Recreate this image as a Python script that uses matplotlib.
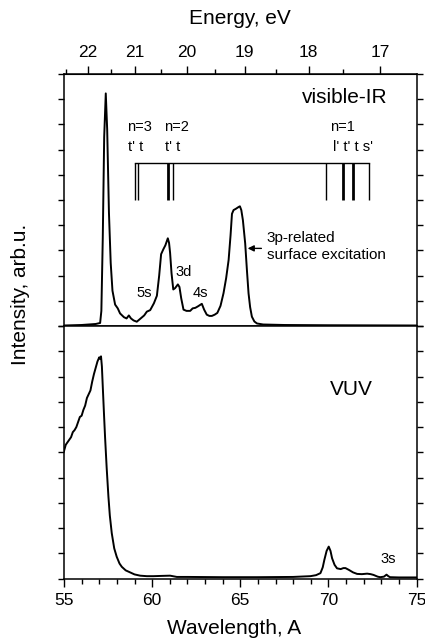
import numpy as np
import matplotlib
matplotlib.use("Agg")
import matplotlib.pyplot as plt
from matplotlib.ticker import MultipleLocator, NullFormatter

plt.rcParams["font.family"] = ["Liberation Sans", "DejaVu Sans"]

# visible-IR spectrum (wavelength, intensity)
vis_wl = [55.0, 56.0, 56.8, 57.05, 57.12, 57.2, 57.28, 57.37, 57.45, 57.55,
          57.65, 57.75, 57.9, 58.05, 58.18, 58.4, 58.55, 58.68, 58.8, 58.95,
          59.13, 59.35, 59.55, 59.7, 59.89, 60.1, 60.27, 60.4, 60.51, 60.64,
          60.75, 60.89, 60.96, 61.02, 61.1, 61.2, 61.3, 61.46, 61.55, 61.65,
          61.78, 61.95, 62.16, 62.3, 62.45, 62.6, 62.82, 62.95, 63.1, 63.25,
          63.39, 63.55, 63.7, 63.88, 64.05, 64.2, 64.34, 64.45, 64.53, 64.62,
          64.75, 64.9, 64.98, 65.06, 65.15, 65.28, 65.38, 65.47, 65.56, 65.66,
          65.8, 65.95, 66.3, 67.5, 70.0, 75.0]
vis_int = [0.02, 0.04, 0.08, 0.12, 0.6, 3.5, 7.5, 9.23, 7.8, 4.5,
           2.5, 1.4, 0.85, 0.7, 0.5, 0.35, 0.3, 0.42, 0.3, 0.22,
           0.17, 0.3, 0.42, 0.57, 0.63, 0.9, 1.2, 2.0, 2.85, 3.05,
           3.2, 3.48, 3.3, 2.9, 2.1, 1.45, 1.5, 1.65, 1.55, 1.1,
           0.65, 0.6, 0.6, 0.7, 0.72, 0.78, 0.88, 0.65, 0.45, 0.4,
           0.4, 0.45, 0.52, 0.8, 1.3, 1.9, 2.62, 3.6, 4.45, 4.6,
           4.65, 4.72, 4.75, 4.6, 4.2, 3.28, 2.2, 1.3, 0.75, 0.37,
           0.18, 0.1, 0.06, 0.04, 0.03, 0.02]

# VUV spectrum
vuv_wl = [55.0, 55.1, 55.2, 55.3, 55.4, 55.5, 55.6, 55.7, 55.8, 55.9,
          56.0, 56.1, 56.2, 56.3, 56.4, 56.5, 56.6, 56.7, 56.8, 56.9,
          57.0, 57.05, 57.1, 57.15, 57.2, 57.27, 57.33, 57.42, 57.52, 57.6,
          57.71, 57.85, 57.99, 58.15, 58.28, 58.5, 58.75, 59.0, 59.32, 59.7,
          60.07, 60.5, 61.02, 61.4, 62.0, 64.0, 66.0, 68.0, 68.98, 69.3,
          69.55, 69.68, 69.77, 69.9, 70.02, 70.12, 70.21, 70.35, 70.49, 70.7,
          70.85, 70.97, 71.16, 71.4, 71.63, 71.9, 72.2, 72.4, 72.56, 72.8,
          72.94, 73.15, 73.3, 73.4, 73.5, 74.0, 75.0]
vuv_int = [5.05, 5.3, 5.4, 5.5, 5.6, 5.8, 5.88, 6.0, 6.2, 6.4,
           6.45, 6.68, 6.85, 7.15, 7.3, 7.45, 7.8, 8.1, 8.35, 8.6,
           8.76, 8.7, 8.8, 8.4, 7.6, 6.5, 5.6, 4.4, 3.25, 2.5,
           1.8, 1.2, 0.87, 0.6, 0.47, 0.33, 0.25, 0.17, 0.12, 0.1,
           0.1, 0.11, 0.12, 0.07, 0.07, 0.06, 0.06, 0.07, 0.1, 0.14,
           0.22, 0.45, 0.74, 1.1, 1.27, 1.1, 0.81, 0.55, 0.41, 0.38,
           0.42, 0.42, 0.35, 0.25, 0.19, 0.18, 0.2, 0.18, 0.15, 0.08,
           0.06, 0.08, 0.16, 0.1, 0.06, 0.05, 0.05]

# exciton level markers
level_wl = [59.0, 59.22, 60.9, 61.2, 69.87, 70.85, 71.4, 72.29]
level_thick = [False, False, True, False, False, True, True, False]
bracket_top = 6.45
bracket_bottom = 5.0

hc = 1239.84
energy_ticks = [17, 18, 19, 20, 21, 22]

fig = plt.figure(figsize=(4.25, 6.44), dpi=100)
l, r = 64 / 425, 416.5 / 425
ax1 = fig.add_axes([l, 1 - 326 / 644, r - l, (326 - 74) / 644])
ax2 = fig.add_axes([l, 1 - 578.7 / 644, r - l, (578.7 - 326) / 644])

for ax in (ax1, ax2):
    ax.set_xlim(55, 75)
    ax.set_ylim(0, 10)
    ax.yaxis.set_major_locator(MultipleLocator(1))
    ax.yaxis.set_major_formatter(NullFormatter())
    ax.tick_params(axis="y", which="both", left=True, right=True,
                   direction="out", length=4, width=1)
    for s in ax.spines.values():
        s.set_linewidth(1.1)

ax1.plot(vis_wl, vis_int, color="black", lw=1.4)
ax2.plot(vuv_wl, vuv_int, color="black", lw=1.4)

ax1.tick_params(axis="x", which="both", bottom=False, labelbottom=False)
ax2.xaxis.set_major_locator(MultipleLocator(5))
ax2.xaxis.set_minor_locator(MultipleLocator(1))
ax2.tick_params(axis="x", which="major", direction="out", length=6, width=1,
                labelsize=12.5, pad=4)
ax2.tick_params(axis="x", which="minor", direction="out", length=3.5, width=1)


def wl2e(x):
    with np.errstate(divide="ignore"):
        return hc / np.asarray(x, dtype=float)


sec = ax1.secondary_xaxis("top", functions=(wl2e, wl2e))
sec.set_xticks(energy_ticks)
sec.xaxis.set_minor_locator(MultipleLocator(0.5))
sec.tick_params(axis="x", which="major", direction="out", length=6, width=1,
                labelsize=12.5, pad=4)
sec.tick_params(axis="x", which="minor", direction="out", length=3.5, width=1)

# level markers
ax1.plot([level_wl[0], level_wl[-1]], [bracket_top, bracket_top], color="black", lw=1)
for x, thick in zip(level_wl, level_thick):
    ax1.plot([x, x], [bracket_bottom, bracket_top], color="black",
             lw=2.0 if thick else 1.0, solid_capstyle="butt")

fs = 10.5
ax1.text(59.3, 7.9, "n=3", ha="center", va="center", fontsize=fs)
ax1.text(59.06, 7.12, "t' t", ha="center", va="center", fontsize=fs)
ax1.text(61.4, 7.9, "n=2", ha="center", va="center", fontsize=fs)
ax1.text(61.14, 7.12, "t' t", ha="center", va="center", fontsize=fs)
ax1.text(70.8, 7.9, "n=1", ha="center", va="center", fontsize=fs)
ax1.text(71.4, 7.12, "l' t' t s'", ha="center", va="center", fontsize=fs)
ax1.text(73.33, 9.05, "visible-IR", ha="right", va="center", fontsize=15)
ax1.text(59.55, 1.3, "5s", ha="center", va="center", fontsize=fs)
ax1.text(61.78, 2.15, "3d", ha="center", va="center", fontsize=fs)
ax1.text(62.76, 1.3, "4s", ha="center", va="center", fontsize=fs)
ax1.annotate("", xy=(65.42, 3.08), xytext=(66.2, 3.08),
             arrowprops=dict(arrowstyle="-|>", color="black", lw=1,
                             mutation_scale=9, shrinkA=0, shrinkB=0))
ax1.text(66.5, 3.15, "3p-related\nsurface excitation", ha="left", va="center",
         fontsize=11, linespacing=1.3)

ax2.text(70.11, 7.47, "VUV", ha="left", va="center", fontsize=15)
ax2.text(73.42, 0.77, "3s", ha="center", va="center", fontsize=fs)

fig.text(240 / 425, 1 - 19 / 644, "Energy, eV", ha="center", va="center", fontsize=15)
fig.text(234 / 425, 1 - 628 / 644, "Wavelength, A", ha="center", va="center", fontsize=15)
fig.text(21 / 425, 1 - 294 / 644, "Intensity, arb.u.", ha="center", va="center",
         rotation=90, fontsize=15)

fig.savefig("out.png", dpi=100)
